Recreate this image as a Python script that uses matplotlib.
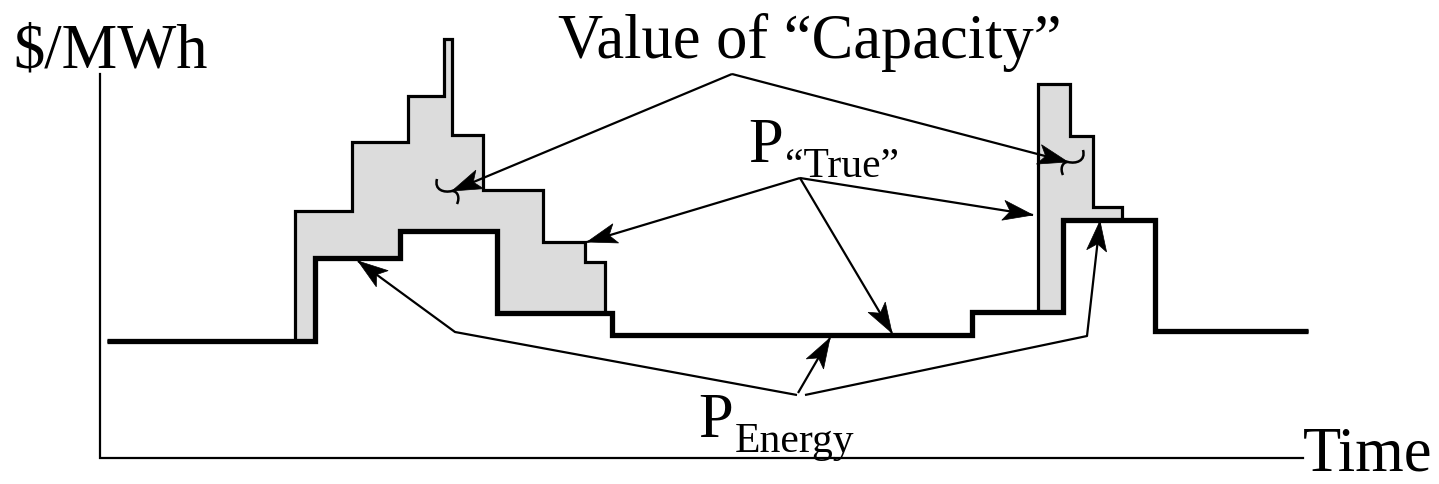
import numpy as np
import matplotlib
matplotlib.use("Agg")
import matplotlib.pyplot as plt
from matplotlib.path import Path
from matplotlib.patches import PathPatch, Polygon

plt.rcParams["font.family"] = ["Liberation Serif", "DejaVu Serif"]

# time breakpoints and price levels (origin = corner of the axes)
ENERGY_EDGES = [7, 215, 300, 397, 512, 872, 963, 1055, 1208]
ENERGY_LEVELS = [117, 200, 227, 145, 123, 146, 238, 127]

TRUE_EDGES = [7, 195, 252, 308, 344, 352, 383, 443, 485, 505, 512,
              872, 938, 970, 993, 1022, 1055, 1208]
TRUE_LEVELS = [117, 247, 316, 362, 419, 323, 268, 216, 196, 145, 123,
               146, 374, 322, 251, 238, 127]

AXIS_TOP = 384
AXIS_END = 1203

# annotation connectors: (text anchor, list of arrow tips)
CAPACITY_FROM = (632, 384)
CAPACITY_TIPS = [(352, 267), (968, 296)]
TRUE_FROM = (700, 280)
TRUE_TIPS = [(487, 216), (933, 243), (792, 125)]
ENERGY_ARROWS = [
    [(698, 65), (730, 120)],
    [(697, 63), (355, 126), (258, 197)],
    [(705, 63), (987, 122), (1000, 237)],
]

HEAD_LEN, HEAD_W, HEAD_NOTCH = 30, 10, 23


def arrow_head(ax, tail, tip):
    tail = np.asarray(tail, float)
    tip = np.asarray(tip, float)
    d = tip - tail
    d /= np.hypot(*d)
    n = np.array([-d[1], d[0]])
    pts = [tip,
           tip - HEAD_LEN * d + HEAD_W * n,
           tip - HEAD_NOTCH * d,
           tip - HEAD_LEN * d - HEAD_W * n]
    ax.add_patch(Polygon(pts, closed=True, facecolor="black",
                         edgecolor="black", linewidth=0.5, zorder=6))


def arrow(ax, pts):
    pts = np.asarray(pts, float)
    ax.plot(pts[:, 0], pts[:, 1], color="black", linewidth=1.6,
            solid_capstyle="butt", zorder=5)
    arrow_head(ax, pts[-2], pts[-1])


def squiggle(ax, tip, side):
    # small curl drawn at the capacity arrow tips
    x, y = tip
    s = side
    verts = [(x - 15 * s, y + 12), (x - 18 * s, y + 1), (x - 8 * s, y - 2), (x, y),
             (x + 6 * s, y + 0), (x + 8 * s, y - 7), (x + 5 * s, y - 13)]
    codes = [Path.MOVETO, Path.CURVE4, Path.CURVE4, Path.CURVE4,
             Path.CURVE4, Path.CURVE4, Path.CURVE4]
    ax.add_patch(PathPatch(Path(verts, codes), facecolor="none",
                           edgecolor="black", linewidth=1.8, zorder=5))


fig = plt.figure(figsize=(14.39, 4.85), dpi=100)
ax = fig.add_axes([0, 0, 1, 1])
ax.set_xlim(-100, 1339)
ax.set_ylim(-26, 459)
ax.axis("off")

# shaded capacity value between the two price curves
grid = np.unique(np.concatenate([ENERGY_EDGES, TRUE_EDGES]))
e_at = np.array(ENERGY_LEVELS)[np.clip(np.searchsorted(ENERGY_EDGES, grid, "right") - 1, 0, len(ENERGY_LEVELS) - 1)]
t_at = np.array(TRUE_LEVELS)[np.clip(np.searchsorted(TRUE_EDGES, grid, "right") - 1, 0, len(TRUE_LEVELS) - 1)]
ax.fill_between(grid, e_at, np.maximum(t_at, e_at), step="post",
                facecolor="#dcdcdc", edgecolor="none", zorder=1)

ax.stairs(TRUE_LEVELS, TRUE_EDGES, baseline=None, color="black",
          linewidth=2.3, zorder=2)
ax.stairs(ENERGY_LEVELS, ENERGY_EDGES, baseline=None, color="black",
          linewidth=3.8, zorder=3)

# axes lines
ax.plot([0, 0, AXIS_END], [AXIS_TOP, 0, 0], color="black", linewidth=1.6,
        solid_joinstyle="miter", zorder=4)

# annotations
for tip in CAPACITY_TIPS:
    arrow(ax, [CAPACITY_FROM, tip])
squiggle(ax, CAPACITY_TIPS[0], 1)
squiggle(ax, CAPACITY_TIPS[1], -1)
for tip in TRUE_TIPS:
    arrow(ax, [TRUE_FROM, tip])
for pts in ENERGY_ARROWS:
    arrow(ax, pts)

big = 45
small = 30
ax.text(-87, 391, "$/MWh", fontsize=big, ha="left", va="baseline")
ax.text(AXIS_END, -12, "Time", fontsize=big, ha="left", va="baseline")
ax.text(458, 401, "Value of \u201cCapacity\u201d", fontsize=big, ha="left", va="baseline")
ax.text(648, 297, "P", fontsize=big, ha="left", va="baseline")
ax.text(685, 282, "\u201cTrue\u201d", fontsize=small, ha="left", va="baseline")
ax.text(598, 22, "P", fontsize=big, ha="left", va="baseline")
ax.text(635, 7, "Energy", fontsize=small, ha="left", va="baseline")

fig.savefig("out.png", dpi=100)
